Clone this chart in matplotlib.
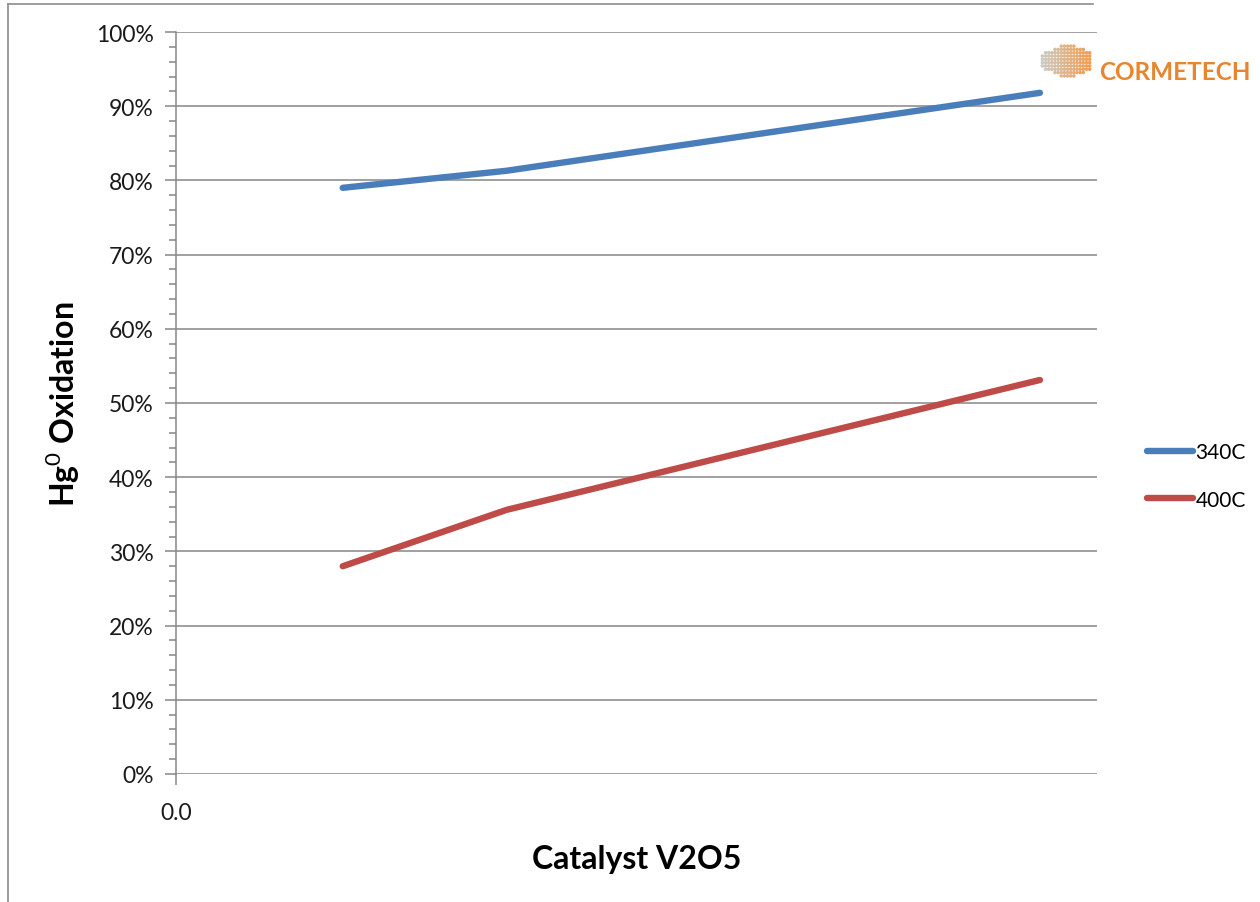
import matplotlib.pyplot as plt
import matplotlib.lines as mlines
from matplotlib.ticker import MultipleLocator, PercentFormatter, FixedLocator
import numpy as np

plt.rcParams['font.family'] = ['Lato', 'DejaVu Sans']
plt.rcParams['mathtext.fontset'] = 'custom'
plt.rcParams['mathtext.rm'] = 'Lato'
plt.rcParams['mathtext.bf'] = 'Lato:bold'

# catalyst V2O5 loading (relative axis units) and Hg0 oxidation in percent
v2o5 = [0.181, 0.359, 0.938]
oxid_340 = [79.0, 81.3, 91.8]
oxid_400 = [28.0, 35.6, 53.1]
series_names = ['340C', '400C']
series_colors = ['#4A7EBB', '#BE4B48']

fig = plt.figure(figsize=(12.6, 9.03), dpi=100)
ax = fig.add_axes([176 / 1260, 1 - 775 / 903, 921 / 1260, 742 / 903])

for y, name, col in zip([oxid_340, oxid_400], series_names, series_colors):
    ax.plot(v2o5, y, color=col, lw=4.6, solid_capstyle='round',
            solid_joinstyle='round', label=name, zorder=3)

ax.set_xlim(0, 1)
ax.set_ylim(0, 100)
ax.yaxis.set_major_locator(MultipleLocator(10))
ax.yaxis.set_minor_locator(MultipleLocator(2))
ax.yaxis.set_major_formatter(PercentFormatter(decimals=0))
ax.xaxis.set_major_locator(FixedLocator([0]))
ax.xaxis.set_major_formatter(lambda v, p: '0.0')

ax.grid(axis='y', color='#868686', lw=1.1)
for s in ['top', 'right', 'bottom']:
    ax.spines[s].set_visible(False)
ax.spines['left'].set_color('#868686')
ax.spines['left'].set_linewidth(1.1)
ax.tick_params(axis='y', which='major', length=8, width=1.1, color='#868686',
               labelsize=16.5, pad=8, labelcolor='#1a1a1a')
ax.tick_params(axis='y', which='minor', length=5, width=1.1, color='#868686')
ax.tick_params(axis='x', length=8, width=1.1, color='#868686',
               labelsize=16.5, pad=12, labelcolor='#1a1a1a')

ax.set_xlabel('Catalyst V2O5', fontsize=23, fontweight='bold', labelpad=15)
ax.set_ylabel(r'Hg$^{0}$ Oxidation', fontsize=23, fontweight='bold', labelpad=10)

handles = [mlines.Line2D([], [], color=c, lw=4.6, solid_capstyle='round')
           for c in series_colors]
fig.legend(handles, series_names, loc='center left',
           bbox_to_anchor=(1137 / 1260, 1 - 477 / 903), frameon=False,
           fontsize=15, handlelength=2.2, handletextpad=0.1, labelspacing=1.3,
           borderpad=0)

# company logo: dotted rhombus mark plus wordmark
logo = fig.add_axes([1040 / 1260, 1 - 82 / 903, 52 / 1260, 40 / 903])
logo.axis('off')
gx, gy = np.meshgrid(np.linspace(0, 1, 16), np.linspace(0, 1, 12))
gx, gy = gx.ravel(), gy.ravel()
keep = np.abs(gy - 0.5) <= 0.5 - 0.55 * np.abs(gx - 0.55)
gx, gy = gx[keep], gy[keep]
dot_cols = [(0.78 + 0.18 * t, 0.78 - 0.2 * t, 0.75 - 0.5 * t) for t in gx]
logo.scatter(gx, gy, s=2.5, c=dot_cols, alpha=0.85)
logo.set_xlim(-0.05, 1.05)
logo.set_ylim(-0.05, 1.05)
fig.text(1099 / 1260, 1 - 72 / 903, 'CORMETECH', color='#E8852E',
         fontsize=17.5, fontweight='bold', ha='left', va='center')

# outer frame
fig.add_artist(mlines.Line2D([8 / 1260, 8 / 1260], [0, 1 - 5 / 903],
                             color='#8c8c8c', lw=1.2, transform=fig.transFigure))
fig.add_artist(mlines.Line2D([8 / 1260, 1093 / 1260], [1 - 5 / 903, 1 - 5 / 903],
                             color='#8c8c8c', lw=1.2, transform=fig.transFigure))

fig.savefig('out.png', dpi=100)
